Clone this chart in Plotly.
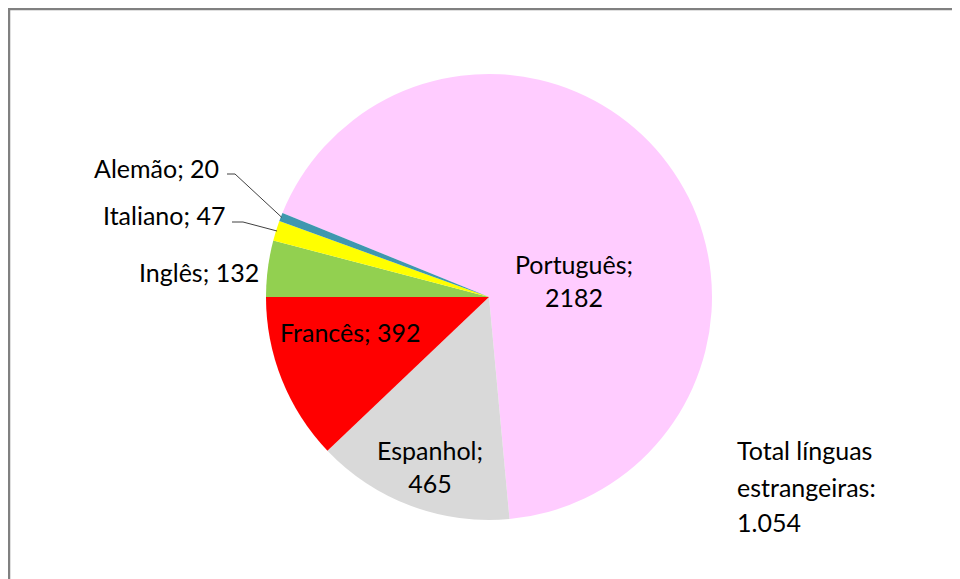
import math
import plotly.graph_objects as go

# ---- data ----
languages = ["Português", "Espanhol", "Francês", "Inglês", "Italiano", "Alemão"]
speakers = [2182, 465, 392, 132, 47, 20]
slice_colors = ["#FFCCFF", "#D9D9D9", "#FF0000", "#92D050", "#FFFF00", "#3F97AF"]
total_note = ["Total línguas", "estrangeiras:", "1.054"]

W, H = 960, 579
OFF = 8  # page offset of the plot div (body margin)
CX, CY, R = 489, 297, 223
ROT = -67.87
FONT = "Lato"
FS = 25


def px(x):
    return (x - OFF) / W


def py(y):
    return 1 - (y - OFF) / H


fig = go.Figure(
    go.Pie(
        labels=languages,
        values=speakers,
        sort=False,
        direction="clockwise",
        rotation=ROT,
        marker=dict(colors=slice_colors, line=dict(width=0)),
        textinfo="none",
        hoverinfo="label+value",
        showlegend=False,
        domain=dict(x=[px(CX - R), px(CX + R)], y=[py(CY + R), py(CY - R)]),
    )
)

# label placement (layout positions) for each slice
label_pos = {
    "Português": (574, 280, "center", True),
    "Espanhol": (430, 466, "center", True),
    "Francês": (350, 332, "center", False),
    "Inglês": (261, 272, "right", False),
    "Italiano": (227, 215, "right", False),
    "Alemão": (221, 168, "right", False),
}

annotations = []
for lang, val in zip(languages, speakers):
    x, y, xa, two = label_pos[lang]
    txt = f"{lang};<br>{val}" if two else f"{lang}; {val}"
    annotations.append(
        dict(
            x=px(x), y=py(y), xref="paper", yref="paper",
            text=txt, showarrow=False, xanchor=xa, yanchor="middle",
            align="center", font=dict(family=FONT, size=FS, color="#000000"),
        )
    )

for line, ly in zip(total_note, [450, 487, 522]):
    annotations.append(
        dict(
            x=px(735), y=py(ly), xref="paper", yref="paper",
            text=line, showarrow=False,
            xanchor="left", yanchor="middle", align="left",
            font=dict(family=FONT, size=FS, color="#000000"),
        )
    )

# leader lines for small slices: computed edge point at slice mid-angle
total = sum(speakers)
cum = 0
mids = {}
for lang, val in zip(languages, speakers):
    a0 = ROT + 360 * cum / total
    cum += val
    a1 = ROT + 360 * cum / total
    mids[lang] = (a0 + a1) / 2

leader_start = {"Alemão": [(227, 174), (235, 174)], "Italiano": [(232, 222), (243, 222)]}
shapes = []
for lang, pts in leader_start.items():
    ang = math.radians(mids[lang])
    ex = CX + (R - 1) * math.sin(ang)
    ey = CY - (R - 1) * math.cos(ang)
    path_pts = pts + [(ex, ey)]
    d = "M " + " L ".join(f"{px(x)},{py(y)}" for x, y in path_pts)
    shapes.append(dict(type="path", xref="paper", yref="paper", path=d,
                       line=dict(color="#404040", width=1)))

# outer frame
shapes.append(dict(type="rect", xref="paper", yref="paper",
                   x0=px(9), y0=py(H + 40), x1=px(W + 40), y1=py(9),
                   line=dict(color="#808080", width=2.5), fillcolor="rgba(0,0,0,0)"))

fig.update_layout(
    width=W, height=H,
    margin=dict(l=0, r=0, t=0, b=0),
    paper_bgcolor="white", plot_bgcolor="white",
    annotations=annotations, shapes=shapes,
)

fig.write_html("out.html")
